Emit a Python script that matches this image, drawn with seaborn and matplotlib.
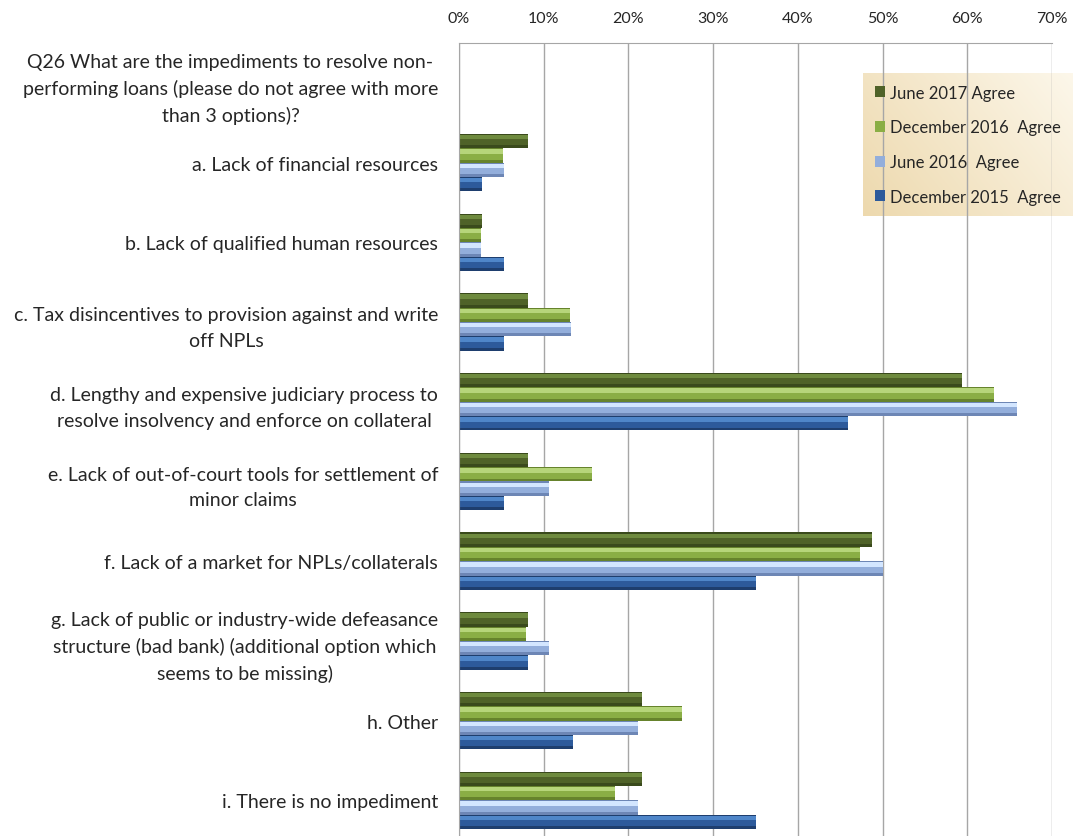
import matplotlib
matplotlib.use('Agg')
import matplotlib.pyplot as plt
from matplotlib.patches import Rectangle
from matplotlib.ticker import PercentFormatter
import seaborn as sns
import pandas as pd
import numpy as np

# survey question + answer options (the question sits in an empty first slot)
question = ('Q26 What are the impediments to resolve non-\n'
            'performing loans (please do not agree with more\n'
            'than 3 options)?')
options = [
    'a. Lack of financial resources',
    'b. Lack of qualified human resources',
    'c. Tax disincentives to provision against and write\noff NPLs',
    'd. Lengthy and expensive judiciary process to\nresolve insolvency and enforce on collateral',
    'e. Lack of out-of-court tools for settlement of\nminor claims',
    'f. Lack of a market for NPLs/collaterals',
    'g. Lack of public or industry-wide defeasance\nstructure (bad bank) (additional option which\nseems to be missing)',
    'h. Other',
    'i. There is no impediment',
]

series_names = ['June 2017 Agree', 'December 2016  Agree',
                'June 2016  Agree', 'December 2015  Agree']

# share agreeing
jun_2017 = [0.081, 0.027, 0.081, 0.594, 0.081, 0.487, 0.081, 0.216, 0.216]
dec_2016 = [0.052, 0.026, 0.131, 0.632, 0.157, 0.473, 0.079, 0.263, 0.184]
jun_2016 = [0.053, 0.026, 0.132, 0.659, 0.106, 0.500, 0.106, 0.211, 0.211]
dec_2015 = [0.027, 0.053, 0.053, 0.459, 0.053, 0.350, 0.081, 0.134, 0.350]

colors = ['#4F6228', '#8AAE45', '#93AEDB', '#2D5A9B']
highlights = ['#6E8A3E', '#B6D57A', '#D3E6FF', '#4F86C9']
shadows = ['#3A4A1C', '#66832C', '#6D86B5', '#1E3E6E']

sns.set_style('white')
plt.rcParams['font.family'] = ['Lato', 'DejaVu Sans']

df = pd.DataFrame({
    'option': options * 4,
    'series': sum([[s] * len(options) for s in series_names], []),
    'value': jun_2017 + dec_2016 + jun_2016 + dec_2015,
})

fig = plt.figure(figsize=(10.73, 8.37), dpi=100)
ax = fig.add_axes([0.4278, -0.005, 0.5527, 0.9525])
ax.patch.set_visible(False)

sns.barplot(data=df, y='option', x='value', hue='series',
            order=[question] + options, hue_order=series_names,
            palette=colors, width=0.72, saturation=1, orient='h',
            edgecolor='none', ax=ax)

# rough version of the excel bevel: light band near top, darker band at bottom
for cont, hl, sh in zip(ax.containers, highlights, shadows):
    for p in cont.patches:
        x, y = p.get_x(), p.get_y()
        w, h = p.get_width(), p.get_height()
        if w <= 0:
            continue
        z = p.get_zorder() + 0.1
        ax.add_patch(Rectangle((x, y), w, h * 0.08, color=sh, lw=0, zorder=z))
        ax.add_patch(Rectangle((x, y + h * 0.08), w, h * 0.3, color=hl, lw=0, zorder=z))
        ax.add_patch(Rectangle((x, y + h * 0.8), w, h * 0.2, color=sh, lw=0, zorder=z))

ax.set_xlim(0, 0.7)
ax.xaxis.set_major_formatter(PercentFormatter(1.0, decimals=0))
ax.xaxis.tick_top()
ax.tick_params(axis='x', length=0, pad=13, labelsize=11.5, colors='#262626')
ax.tick_params(axis='y', length=0, pad=15, labelsize=14, colors='#262626')
for t in ax.get_yticklabels():
    t.set_multialignment('center')
    t.set_linespacing(1.6)

ax.set_axisbelow(True)
ax.grid(axis='x', color='#A6A6A6', lw=1)
ax.grid(axis='y', visible=False)
for side in ['right', 'bottom']:
    ax.spines[side].set_visible(False)
for side in ['top', 'left']:
    ax.spines[side].set_color('#A6A6A6')
ax.set_xlabel('')
ax.set_ylabel('')

leg = ax.legend(loc='upper right', bbox_to_anchor=(1.0, 0.9116),
                bbox_transform=fig.transFigure, fontsize=12,
                frameon=True, fancybox=False, handlelength=0.65,
                handleheight=0.65, handletextpad=0.3, labelspacing=1.12,
                borderpad=0.7, borderaxespad=0)
leg.get_frame().set_facecolor('none')
leg.get_frame().set_edgecolor('none')

# beige gradient behind the legend box
fig.canvas.draw()
bb = leg.get_window_extent().transformed(fig.transFigure.inverted())
gax = fig.add_axes(bb.bounds, zorder=-1)
gx, gy = np.meshgrid(np.linspace(0, 1, 200), np.linspace(0, 1, 100))
t = np.clip(0.65 * gx + 0.35 * (1 - gy), 0, 1)
c0 = np.array([0.93, 0.85, 0.68])
c1 = np.array([0.99, 0.97, 0.92])
grad = c0 + (c1 - c0) * t[..., None]
gax.imshow(grad, aspect='auto', extent=(0, 1, 0, 1), origin='upper')
gax.axis('off')

fig.savefig('out.png', dpi=100)
